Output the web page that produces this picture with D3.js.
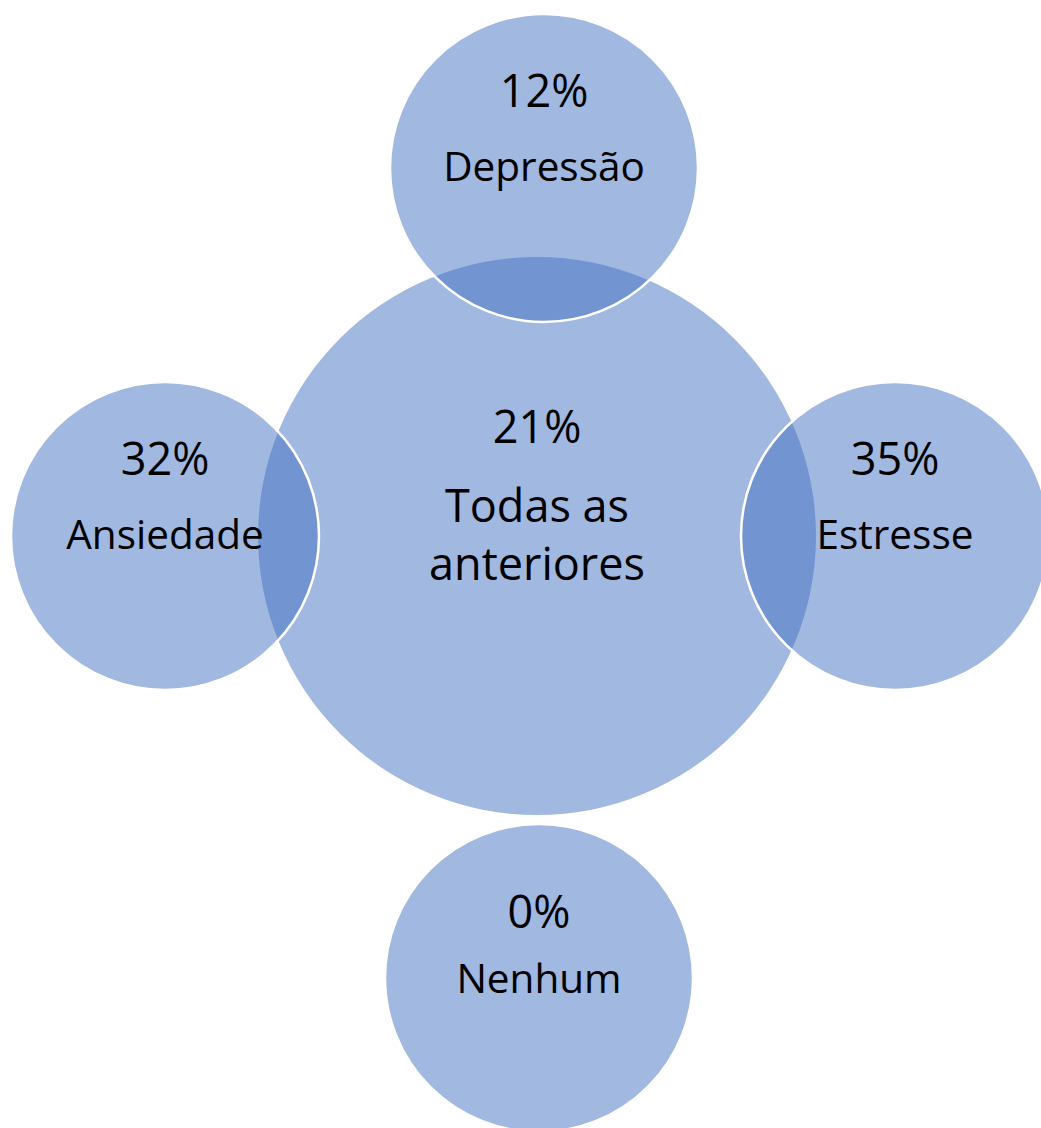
<!DOCTYPE html>
<html>
<head>
<meta charset="utf-8">
<script src="https://cdn.jsdelivr.net/npm/d3@7"></script>
<style>
	html, body { margin: 0; padding: 0; background: #fff; }
	svg { display: block; }
	text { font-family: "Open Sans", Lato, sans-serif; fill: #000; }
</style>
</head>
<body>
<div id="diagram"></div>
<script>
'use strict';
(function(){

	// data
	var categories = ['Todas as anteriores', 'Depressão', 'Ansiedade', 'Estresse', 'Nenhum'];
	var percentages = [21, 12, 32, 35, 0];
	var labelLines = [['Todas as', 'anteriores'], ['Depressão'], ['Ansiedade'], ['Estresse'], ['Nenhum']];

	// svg
	var svgWidth = 1041;
	var svgHeight = 1128;

	var svg = d3.select('#diagram')
		.append('svg')
		.attr('width', svgWidth)
		.attr('height', svgHeight);

	// layout: hub in the middle, the rest around it
	var hub = { x: 537, y: 536, r: 279 };
	var spokeR = 154;
	var spokeOffsets = {
		'Depressão': [7, -368],
		'Ansiedade': [-372, 0],
		'Estresse': [358, 0],
		'Nenhum': [2, 442]
	};

	var nodes = categories.map(function (c, i) {
		var isHub = i === 0;
		var off = spokeOffsets[c] || [0, 0];
		return {
			name: c,
			value: percentages[i],
			lines: labelLines[i],
			hub: isHub,
			bottom: off[1] > 0,
			x: hub.x + off[0],
			y: hub.y + off[1],
			r: isHub ? hub.r : spokeR
		};
	});

	var fmt = function (d) { return d3.format('d')(d) + '%'; };

	// circles
	svg.selectAll('circle')
		.data(nodes)
		.enter()
		.append('circle')
		.attr('cx', function (d) { return d.x; })
		.attr('cy', function (d) { return d.y; })
		.attr('r', function (d) { return d.r; })
		.attr('fill', '#4472C4')
		.attr('fill-opacity', 0.5)
		.attr('stroke', function (d) { return d.hub ? 'none' : '#fff'; })
		.attr('stroke-width', 2.5);

	// labels
	var labels = svg.selectAll('g.label')
		.data(nodes)
		.enter()
		.append('g')
		.attr('class', 'label')
		.attr('transform', function (d) { return 'translate(' + d.x + ',' + d.y + ')'; });

	labels.append('text')
		.attr('text-anchor', 'middle')
		.attr('y', function (d) { return d.hub ? -93 : (d.bottom ? -50 : -61); })
		.style('font-size', '45px')
		.text(function (d) { return fmt(d.value); });

	labels.each(function (d) {
		var g = d3.select(this);
		d.lines.forEach(function (line, j) {
			g.append('text')
				.attr('text-anchor', 'middle')
				.attr('y', d.hub ? -14 + j * 58 : (d.bottom ? 15 : 13))
				.style('font-size', d.hub ? '45px' : '40.5px')
				.text(line);
		});
	});

}());
</script>
</body>
</html>
